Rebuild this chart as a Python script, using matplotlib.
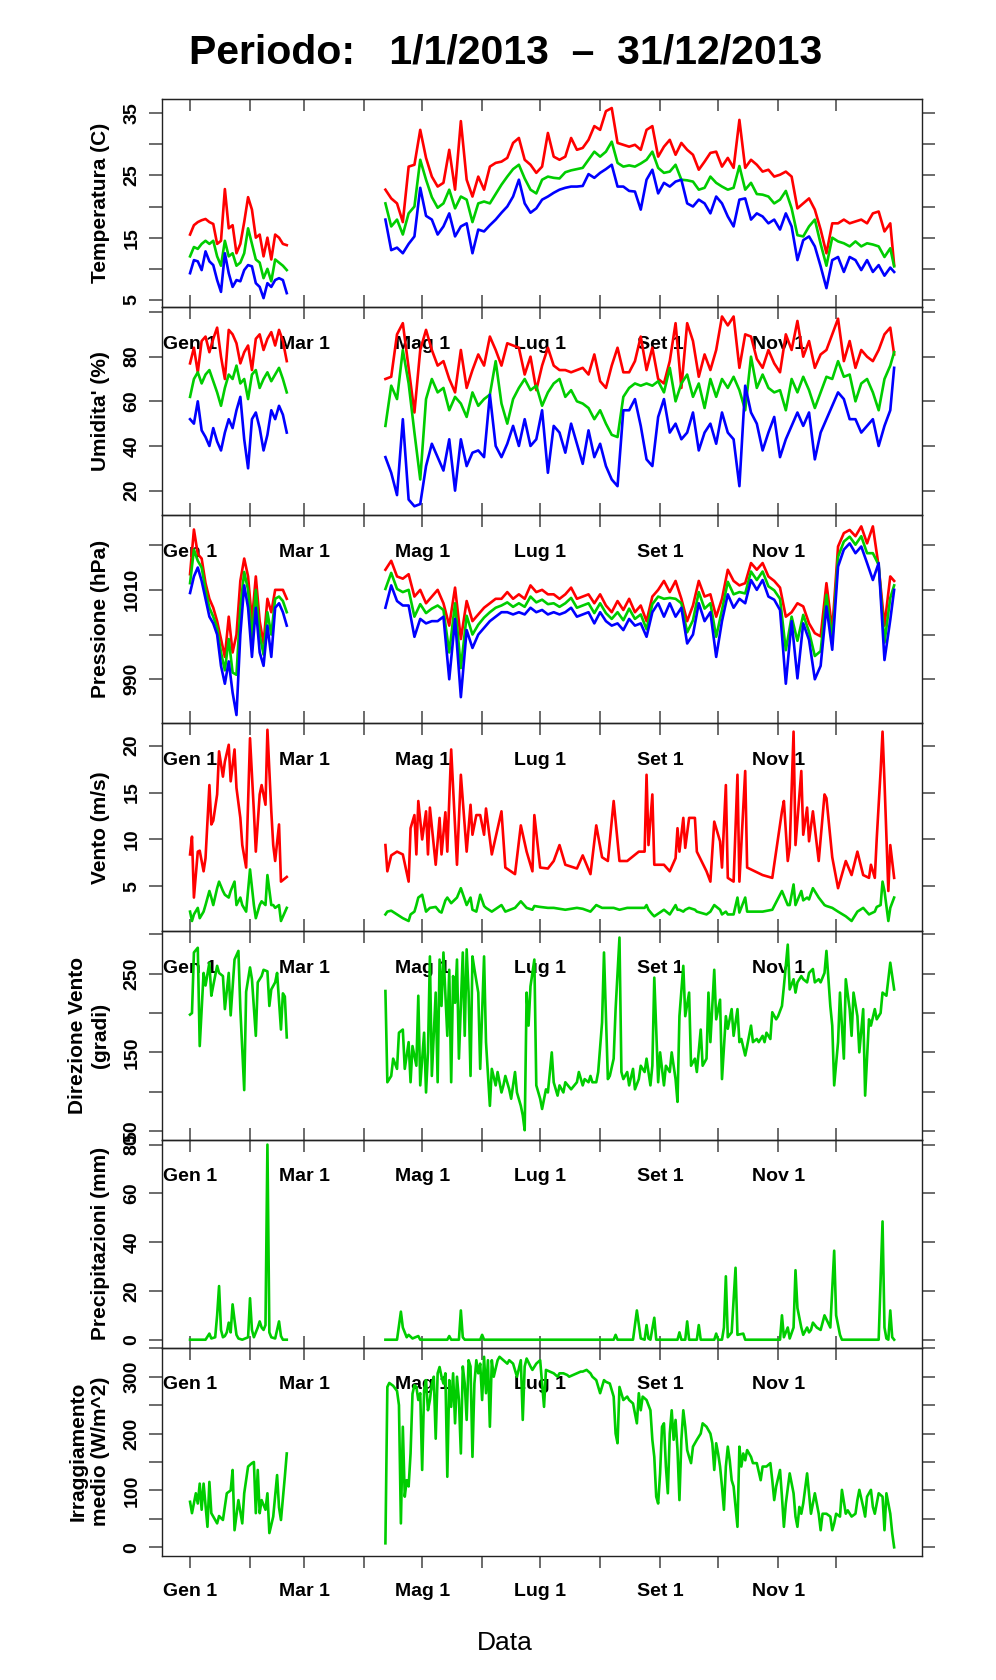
import numpy as np
import matplotlib
matplotlib.use("Agg")
import matplotlib.pyplot as plt

plt.rcParams['font.family'] = ['Liberation Sans', 'DejaVu Sans']

# giorno dell'anno, 0 = 1 gennaio 2013 (dati mancanti tra fine feb e meta' apr)
giorni = list(range(0, 51, 2)) + list(range(101, 363, 3)) + [364]

temp_max = [15.5, 17.0, 17.5, 17.8, 18.0, 17.5, 17.2, 14.0, 14.5, 22.8, 16.5, 17.0, 12.5,
            14.0, 17.5, 21.5, 19.5, 15.0, 15.5, 12.0, 15.0, 11.5, 15.5, 15.0, 14.0, 13.8,
            22.7, 21.3, 20.5, 17.5, 26.4, 26.7, 32.3, 27.8, 24.8, 23.2,
            23.8, 29.1, 22.7, 33.7, 24.3, 21.6, 24.8, 22.7, 26.4, 27.0,
            27.2, 27.8, 30.2, 31.0, 27.5, 26.7, 25.4, 26.4, 31.8, 28.0,
            27.5, 28.0, 31.0, 29.1, 29.4, 30.7, 32.9, 32.3, 35.3, 35.8,
            30.2, 29.9, 29.6, 29.9, 29.1, 32.3, 32.9, 28.0, 29.6, 30.7,
            28.3, 30.2, 29.1, 28.3, 25.9, 27.2, 28.6, 28.8, 26.4, 27.8,
            26.2, 33.9, 26.2, 27.5, 26.7, 25.6, 25.9, 24.8, 25.1, 25.6,
            24.8, 19.7, 20.5, 21.3, 19.5, 16.3, 12.5, 17.3, 17.3, 17.9,
            17.3, 17.6, 17.9, 17.3, 18.9, 19.2, 16.0, 17.3, 10.6]
temp_med = [12.0, 13.5, 13.2, 14.0, 14.5, 14.0, 14.5, 12.0, 10.5, 14.5, 12.0, 12.5, 10.5,
            11.0, 12.5, 16.5, 14.0, 11.5, 11.0, 8.5, 10.0, 8.0, 11.5, 11.0, 10.5, 9.8,
            20.5, 16.8, 17.9, 15.5, 18.9, 20.0, 27.5, 24.3, 21.5, 19.8,
            20.5, 22.7, 19.7, 21.6, 21.1, 17.5, 20.5, 20.8, 20.5, 22.0,
            23.5, 24.8, 26.0, 26.7, 24.5, 22.7, 22.1, 24.3, 24.8, 24.6,
            24.5, 25.5, 25.8, 26.0, 26.2, 27.5, 28.8, 28.0, 28.8, 30.4,
            27.0, 26.4, 26.6, 26.4, 26.9, 27.5, 28.8, 26.2, 25.4, 25.6,
            26.7, 24.3, 24.2, 24.0, 22.7, 23.0, 24.8, 23.8, 23.2, 22.7,
            23.0, 26.5, 22.7, 23.8, 22.0, 21.9, 21.6, 20.5, 21.1, 22.5,
            19.7, 15.4, 15.2, 16.8, 17.9, 14.0, 10.5, 15.0, 14.4, 14.1,
            13.6, 14.4, 13.6, 14.1, 13.9, 13.6, 11.9, 13.3, 10.4]
temp_min = [9.3, 11.4, 11.2, 9.8, 12.8, 11.2, 10.6, 8.2, 6.3, 12.5, 9.3, 7.1, 8.2,
            8.0, 9.8, 10.6, 10.4, 7.7, 7.1, 5.3, 7.7, 7.1, 8.2, 8.5, 8.2, 6.1,
            17.9, 13.0, 13.4, 12.5, 14.0, 15.2, 23.0, 18.5, 17.9, 15.5,
            16.8, 18.9, 15.2, 16.8, 17.3, 12.5, 16.3, 16.0, 17.0, 17.9,
            19.0, 20.0, 21.6, 24.3, 20.5, 19.0, 19.7, 21.1, 21.6, 22.2,
            22.7, 23.0, 23.2, 23.2, 23.3, 25.2, 24.6, 25.4, 26.0, 26.7,
            23.2, 23.2, 22.5, 22.4, 19.5, 24.3, 25.9, 22.1, 23.8, 23.2,
            24.0, 24.3, 20.5, 20.0, 21.1, 20.5, 18.9, 21.6, 20.5, 18.4,
            16.8, 21.1, 21.3, 17.9, 18.9, 18.4, 17.3, 17.9, 16.3, 18.9,
            16.8, 11.4, 14.6, 15.2, 13.6, 10.4, 6.9, 11.4, 11.9, 9.5,
            11.9, 11.4, 9.8, 11.4, 9.5, 10.6, 8.9, 10.2, 9.5]

umid_max = [77, 84, 73, 87, 89, 82, 88, 93, 80, 70, 92, 90, 86, 77, 82, 85, 74, 88, 90, 83,
            88, 91, 85, 92, 87, 78,
            70, 71, 90, 95, 75, 55, 83, 92, 83, 76, 78, 70, 64, 83, 66, 74, 81, 76, 89, 83,
            76, 86, 85, 84, 72, 80, 65, 76, 84, 76, 74, 74, 73, 74, 75, 72, 81, 69, 66, 76,
            84, 73, 73, 78, 89, 74, 84, 70, 68, 78, 95, 66, 95, 87, 71, 81, 74, 83, 98, 94,
            98, 75, 90, 89, 79, 75, 83, 77, 73, 90, 83, 96, 80, 87, 75, 81, 83, 90, 97, 78,
            87, 75, 83, 80, 78, 83, 90, 93, 81]
umid_med = [62, 70, 73, 68, 72, 74, 69, 64, 58, 66, 72, 70, 76, 68, 70, 61, 72, 74, 66, 70,
            73, 69, 72, 75, 70, 64,
            49, 67, 61, 83, 68, 46, 25, 61, 70, 64, 66, 56, 62, 59, 53, 64, 58, 61, 63, 78,
            59, 50, 61, 66, 70, 65, 67, 58, 64, 68, 70, 62, 65, 60, 59, 57, 52, 56, 50, 45,
            44, 62, 66, 68, 67, 68, 67, 69, 64, 75, 60, 68, 72, 62, 68, 57, 70, 62, 70, 66,
            71, 65, 56, 80, 66, 72, 66, 64, 65, 56, 70, 64, 71, 65, 57, 64, 71, 70, 78, 71,
            72, 60, 68, 70, 64, 56, 70, 76, 82]
umid_min = [52, 50, 60, 47, 44, 40, 48, 42, 38, 46, 52, 48, 56, 62, 43, 30, 52, 55, 48, 38,
            45, 56, 52, 58, 54, 46,
            35, 28, 18, 52, 16, 13, 14, 31, 41, 35, 29, 43, 20, 43, 31, 37, 38, 35, 63, 40,
            35, 41, 49, 40, 52, 40, 43, 56, 28, 49, 46, 37, 50, 41, 32, 47, 35, 41, 31, 25,
            22, 56, 56, 61, 49, 34, 31, 53, 61, 46, 50, 43, 46, 55, 38, 46, 50, 41, 55, 46,
            43, 22, 67, 55, 50, 38, 46, 53, 35, 43, 49, 55, 49, 55, 34, 46, 52, 58, 64, 61,
            52, 52, 46, 49, 52, 40, 49, 56, 75]

press_max = [1013.5, 1023.5, 1018, 1017, 1011.5, 1008, 1006, 1003, 999, 995, 1004, 996, 1000,
             1012, 1017, 1013, 1003, 1013, 1003, 998, 1008, 1005, 1010, 1010, 1010, 1008,
             1014.5, 1016.5, 1013, 1012.5, 1013.5, 1008.5, 1010, 1007, 1008.5, 1010,
             1007, 1002, 1010.5, 999, 1007.5, 1003, 1004.5, 1006, 1007, 1008,
             1008, 1009.5, 1008, 1009, 1008, 1011, 1009.5, 1010, 1009, 1009,
             1008, 1009, 1010.5, 1008, 1008.5, 1009, 1007, 1009, 1006.5, 1005,
             1007.5, 1005.5, 1008, 1005, 1006.5, 1003, 1008.5, 1010, 1012, 1009.5,
             1012, 1008, 1003, 1006.5, 1012, 1008.5, 1009, 1004, 1008, 1014.5,
             1012, 1011, 1011.5, 1016, 1014.5, 1016, 1013, 1012, 1010.5, 1004,
             1005, 1007, 1006.3, 1002.5, 1000.3, 999.6, 1011.5, 1001, 1019.7, 1022.7,
             1023.4, 1022, 1024.2, 1020.4, 1024.2, 1015.2, 1002, 1013, 1012]
press_med = [1011.5, 1019, 1016.5, 1015, 1010, 1006, 1004, 1001.5, 996, 992, 999, 991.5, 991,
             1006, 1014, 1010, 999, 1010, 1000, 995.5, 1005, 1000, 1008, 1008.5, 1007.5, 1005,
             1010.2, 1013.8, 1010.2, 1009.5, 1010, 1004, 1006.8, 1004.8, 1005.8, 1006.5,
             1005.5, 996, 1007, 992.5, 1004.2, 1000, 1002.2, 1003.8, 1005, 1006,
             1006.5, 1007.2, 1006.2, 1007, 1006.2, 1008.5, 1007.2, 1007.8, 1006.8, 1007,
             1006.2, 1007, 1008.2, 1006, 1006.5, 1007, 1004.8, 1007, 1004.8, 1003.5,
             1005, 1003.2, 1005.8, 1003.5, 1004.5, 1001.2, 1006.8, 1008.5, 1008, 1008.2,
             1008, 1007, 1000.5, 1003.2, 1009.5, 1005.8, 1007, 999.5, 1005.5, 1011.8,
             1009, 1009.5, 1009.2, 1014.1, 1012.2, 1014.1, 1010.8, 1009.9, 1008, 996.5,
             1004, 998.6, 1004.4, 1000.6, 995.2, 996.3, 1008.9, 998.8, 1017.4, 1020.8,
             1021.9, 1020.1, 1022, 1018.2, 1018.2, 1015.6, 998.2, 1008.2, 1011]
press_min = [1009.3, 1013, 1015, 1012, 1008, 1004, 1002.5, 1000, 993, 989, 994, 987, 982,
             1000, 1011, 1006, 995, 1006, 996, 993, 1002, 995, 1006, 1007, 1005, 1002,
             1006, 1011, 1007.5, 1006.5, 1006.5, 999.5, 1003.5, 1002.5, 1003, 1003,
             1004, 990, 1003.5, 986, 1001, 997, 1000, 1001.5, 1003, 1004,
             1005, 1005, 1004.5, 1005, 1004.5, 1006, 1005, 1005.5, 1004.5, 1005,
             1004.5, 1005, 1006, 1004, 1004.5, 1005, 1002.5, 1005, 1003, 1002,
             1002.5, 1001, 1003.5, 1002, 1002.5, 999.5, 1005, 1007, 1004, 1007,
             1004, 1006, 998, 1000, 1007, 1003, 1005, 995, 1003, 1009,
             1006, 1008, 1007, 1012.2, 1010, 1012.2, 1008.5, 1007.8, 1005.5, 989,
             1003, 990.2, 1002.5, 998.8, 990, 993, 1006.3, 996.6, 1015.2, 1019,
             1020.4, 1018.2, 1019.7, 1016, 1012.2, 1016, 994.3, 1003.3, 1010]

giorni_vento = [0, 1, 2, 4, 5, 7, 8, 10, 11, 12, 14, 15, 17, 18, 20, 21, 23, 24, 26, 27,
                29, 31, 33, 34, 36, 37, 39, 40, 42, 43, 44, 46, 47, 50,
                101, 102, 104, 107, 110, 113, 114, 116, 117, 118, 120, 122, 123, 124, 127, 129,
                130, 132, 133, 135, 138, 140, 143, 145, 146, 148, 150, 152, 153, 156, 161, 163,
                168, 171, 174, 177, 178, 181, 185, 188, 191, 194, 200, 203, 207, 210, 213, 216,
                219, 222, 226, 232, 235, 236, 237, 239, 240, 245, 248, 251, 252, 253, 255, 256,
                258, 261, 262, 267, 269, 271, 274, 275, 277, 278, 281, 283, 284, 287, 288, 296,
                301, 306, 307, 309, 310, 312, 313, 316, 317, 319, 320, 322, 325, 328, 329, 332,
                335, 339, 342, 345, 348, 351, 352, 354, 355, 357, 358, 359, 361, 362, 364]
vento_max = [8.4, 10.3, 3.8, 8.7, 8.8, 6.6, 8.0, 15.8, 11.6, 12.0, 14.8, 19.4, 16.7, 18.3,
             20.1, 16.2, 19.6, 15.5, 12.3, 9.4, 7.0, 20.8, 13.0, 8.7, 14.8, 15.8, 13.7, 21.7,
             13.0, 9.4, 7.7, 11.6, 5.5, 6.0,
             9.4, 6.6, 8.3, 8.7, 8.4, 5.5, 11.2, 12.6, 8.4, 14.1, 10.0, 13.0, 8.4, 13.4, 7.3,
             12.3, 8.4, 12.9, 8.7, 19.6, 7.3, 16.9, 8.7, 13.7, 10.5, 12.6, 12.6, 10.5, 13.3,
             8.4, 13.0, 7.0, 6.3, 11.5, 8.7, 6.6, 12.6, 7.0, 6.9, 7.7, 9.4, 7.3, 6.9, 8.3,
             6.3, 11.5, 8.1, 7.7, 14.1, 7.7, 7.7, 8.7, 8.7, 16.9, 9.4, 14.8, 7.3, 7.3, 6.6,
             8.0, 11.2, 8.7, 12.3, 9.1, 12.3, 12.3, 8.7, 6.6, 5.5, 11.9, 9.8, 7.0, 15.8, 5.9,
             5.5, 16.9, 5.5, 17.3, 7.0, 6.2, 5.9, 13.0, 14.1, 7.7, 9.1, 21.5, 9.4, 17.3, 10.5,
             13.4, 9.8, 13.0, 7.7, 14.8, 14.4, 8.1, 4.8, 7.7, 6.2, 8.7, 6.2, 5.9, 7.3, 5.9,
             10.1, 17.3, 21.5, 16.2, 4.5, 9.4, 5.9]
vento_med = [2.3, 1.3, 2.0, 2.7, 1.6, 2.3, 3.0, 4.5, 3.8, 3.0, 4.8, 5.5, 4.5, 4.1, 3.8, 4.5,
             5.5, 3.0, 3.8, 3.0, 2.3, 6.8, 3.0, 1.6, 3.0, 3.4, 3.0, 6.2, 3.0, 3.0, 2.7, 3.0,
             1.3, 2.7,
             2.0, 2.3, 2.4, 2.0, 1.6, 1.3, 2.0, 2.3, 3.0, 3.8, 4.1, 2.3, 2.5, 2.7, 2.8, 2.3,
             2.2, 3.5, 3.8, 3.2, 3.8, 4.8, 3.0, 3.8, 2.5, 2.3, 4.1, 2.9, 2.7, 2.3, 3.0, 2.3,
             2.7, 3.4, 2.7, 2.5, 2.9, 2.8, 2.7, 2.7, 2.6, 2.5, 2.7, 2.6, 2.3, 3.0, 2.7, 2.7,
             2.7, 2.5, 2.7, 2.7, 2.7, 3.0, 2.5, 2.0, 1.8, 2.5, 2.0, 3.0, 2.5, 2.5, 2.3, 2.5,
             2.7, 2.5, 2.3, 2.0, 2.3, 3.0, 2.5, 2.0, 2.3, 2.0, 2.0, 3.8, 2.2, 3.8, 2.3, 2.3,
             2.5, 4.5, 4.0, 3.0, 3.0, 5.2, 3.0, 4.5, 3.5, 3.8, 3.6, 4.8, 3.8, 3.0, 2.9, 2.7,
             2.3, 1.8, 1.3, 2.3, 2.7, 2.0, 2.1, 2.3, 2.8, 3.0, 5.5, 4.5, 1.3, 2.7, 3.8]

giorni_dir = [0, 1, 2, 4, 5, 7, 8, 10, 11, 12, 14, 15, 17, 18, 20, 21, 23, 25, 26, 28,
              29, 31, 32, 34, 35, 37, 38, 40, 41, 42, 44, 45, 47, 48, 49, 50,
              101, 102, 104, 105, 107, 108, 110, 111, 113, 114, 115, 117, 118, 119, 121, 122,
              123, 124, 125, 127, 128, 129, 130, 131, 133, 134, 135, 136, 137, 138, 139, 141,
              142, 143, 144, 145, 146, 147, 149, 150, 152, 153, 155, 156, 158, 159, 161, 162,
              163, 165, 166, 168, 169, 171, 172, 173, 174, 175, 176, 178, 179, 181, 182, 184,
              185, 187, 188, 190, 191, 193, 194, 197, 200, 201, 203, 204, 206, 207, 208, 210,
              211, 213, 214, 216, 217, 219, 220, 222, 223, 224, 226, 227, 229, 230, 232, 233,
              235, 236, 238, 239, 240, 242, 243, 245, 246, 248, 249, 251, 252, 253, 255, 256,
              258, 259, 261, 262, 264, 265, 267, 268, 269, 271, 272, 274, 275, 277, 278, 280,
              281, 283, 284, 285, 287, 288, 290, 291, 293, 294, 296, 297, 298, 300, 301, 303,
              304, 306, 307, 309, 310, 312, 313, 314, 316, 317, 319, 320, 322, 323, 325, 326,
              328, 329, 331, 332, 333, 335, 336, 338, 339, 341, 342, 343, 345, 346, 348, 349,
              351, 352, 354, 355, 357, 358, 360, 361, 362, 364]
direzione = [198, 200, 277, 283, 158, 251, 235, 264, 222, 235, 260, 251, 247, 205, 251, 197,
             268, 279, 205, 102, 227, 258, 243, 171, 239, 247, 255, 253, 209, 230, 239, 251,
             179, 225, 221, 169,
             228, 112, 120, 142, 129, 175, 179, 129, 163, 112, 158, 133, 222, 108, 175, 99,
             150, 272, 120, 226, 112, 268, 209, 277, 171, 255, 112, 247, 213, 268, 142, 277,
             171, 281, 226, 120, 272, 256, 226, 129, 272, 163, 82, 129, 108, 125, 99, 108,
             120, 103, 91, 125, 99, 82, 70, 51, 226, 184, 234, 268, 108, 91, 78, 103,
             99, 150, 112, 95, 108, 99, 112, 103, 112, 125, 108, 116, 112, 120, 112, 112,
             125, 188, 277, 116, 120, 142, 205, 296, 125, 116, 125, 108, 129, 103, 116, 133,
             125, 142, 108, 133, 245, 112, 150, 108, 133, 125, 150, 116, 87, 196, 260, 196,
             226, 133, 142, 125, 179, 133, 142, 226, 163, 255, 192, 217, 116, 196, 180, 205,
             171, 205, 163, 167, 146, 158, 184, 163, 167, 163, 171, 163, 175, 167, 201, 192,
             196, 209, 234, 287, 230, 243, 226, 239, 247, 243, 239, 251, 256, 239, 243, 239,
             251, 279, 209, 184, 108, 163, 226, 142, 243, 205, 171, 226, 196, 150, 205, 95,
             192, 184, 205, 192, 200, 226, 222, 243, 264, 230]

giorni_pioggia = [0, 8, 10, 11, 13, 14, 15, 16, 17, 18, 19, 20, 21, 22, 23, 24, 25, 27, 30, 31,
                  32, 33, 34, 35, 36, 37, 38, 39, 40, 41, 42, 44, 46, 47, 48, 50,
                  101, 107, 109, 110, 111, 112, 113, 115, 118, 119, 133, 134, 135, 139, 140, 141,
                  142, 150, 151, 152, 219, 220, 221, 229, 231, 233, 235, 236, 237, 238, 240, 241,
                  252, 253, 254, 256, 257, 258, 262, 263, 264, 271, 272, 273, 275, 276, 277, 278,
                  280, 282, 283, 286, 287, 305, 306, 307, 309, 310, 312, 313, 314, 316, 317, 319,
                  320, 321, 322, 323, 324, 326, 328, 331, 333, 334, 336, 337, 356, 358, 359, 360,
                  361, 362, 363, 364]
pioggia = [0, 0, 2.5, 0.5, 1, 10, 22, 4, 1, 1.5, 3, 7, 3, 14.5, 8, 2, 0.5, 0, 1, 17,
           4, 1, 3, 5, 7.5, 5, 4, 6, 80, 3, 1, 0.5, 7.5, 1.5, 0, 0,
           0, 0, 11.5, 5, 3, 1, 2, 0.5, 1.5, 0, 0, 1.5, 0, 0, 12, 1,
           0, 0, 2, 0, 0, 2, 0, 0, 12, 0.5, 0, 6, 0.5, 0, 9, 0,
           0, 3, 0, 0, 7.5, 0, 0, 6, 0, 0, 2.5, 0, 0, 5, 26, 1,
           3, 29.5, 2, 2.5, 0, 0, 10, 1, 5, 0.5, 5, 28.5, 13, 5, 2, 5,
           3, 4, 7, 6, 5, 4, 10, 5, 36.5, 10, 2, 0, 0, 48.5, 5, 0.5,
           0, 12, 1, 0]

giorni_irr = [0, 1, 3, 4, 5, 6, 7, 9, 10, 11, 13, 14, 15, 17, 19, 21, 22, 23, 25, 27,
              28, 30, 32, 33, 34, 35, 36, 37, 39, 40, 41, 43, 45, 46, 47, 49, 50,
              101, 102, 103, 105, 107, 108, 109, 110, 111, 112, 113, 114, 115, 116, 117, 118,
              119, 120, 121, 122, 123, 124, 125, 126, 127, 128, 129, 130, 131, 132, 133, 134,
              135, 136, 137, 138, 139, 140, 141, 142, 143, 144, 145, 146, 147, 148, 149, 150,
              151, 152, 153, 154, 155, 156, 157, 159, 160, 162, 164, 165, 167, 169, 171, 172,
              173, 174, 176, 177, 179, 181, 183, 184, 186, 188, 190, 191, 193, 195, 196, 198,
              200, 202, 203, 205, 207, 208, 210, 212, 214, 215, 217, 219, 220, 221, 222, 224,
              226, 227, 229, 231, 232, 233, 234, 236, 238, 239, 240, 241, 242, 243, 244, 245,
              246, 247, 248, 249, 250, 251, 252, 253, 254, 255, 256, 257, 258, 259, 260, 262,
              264, 265, 267, 269, 270, 271, 272, 273, 274, 275, 276, 277, 278, 279, 280, 281,
              282, 283, 284, 285, 286, 287, 288, 290, 291, 293, 295, 296, 298, 300, 301, 302,
              303, 305, 306, 307, 308, 310, 312, 313, 314, 315, 316, 317, 319, 320, 321, 323,
              325, 326, 327, 329, 331, 332, 333, 334, 336, 337, 339, 340, 342, 344, 345, 346,
              348, 349, 350, 352, 353, 354, 356, 358, 359, 360, 362, 363, 364]
irraggiamento = [80, 60, 95, 77, 112, 66, 112, 36, 115, 60, 48, 42, 55, 48, 95, 100, 136, 30,
                 83, 42, 95, 142, 148, 150, 60, 136, 60, 83, 66, 95, 25, 54, 127, 70, 48, 124,
                 165,
                 7, 282, 289, 284, 275, 250, 42, 212, 89, 118, 107, 165, 270, 285, 282, 259,
                 271, 136, 276, 294, 241, 259, 288, 300, 191, 306, 317, 300, 288, 306, 124, 294,
                 247, 306, 218, 300, 259, 165, 318, 288, 224, 329, 318, 159, 288, 329, 306, 323,
                 259, 335, 271, 329, 212, 329, 300, 329, 335, 329, 323, 329, 323, 300, 329, 224,
                 318, 332, 318, 312, 323, 329, 247, 312, 309, 306, 300, 306, 306, 303, 300, 303,
                 306, 309, 309, 312, 306, 300, 294, 271, 294, 291, 288, 265, 200, 183, 282, 259,
                 265, 259, 253, 218, 271, 241, 265, 259, 241, 189, 159, 89, 77, 130, 212, 218,
                 142, 95, 200, 241, 189, 224, 171, 83, 189, 241, 212, 171, 159, 148, 177, 189,
                 200, 218, 212, 200, 183, 136, 183, 165, 142, 107, 66, 142, 177, 153, 118, 107,
                 71, 36, 177, 142, 165, 153, 171, 159, 148, 148, 118, 142, 142, 148, 118, 83,
                 107, 136, 89, 36, 77, 130, 95, 54, 36, 71, 59, 77, 130, 95, 59, 95,
                 59, 30, 59, 59, 54, 30, 42, 59, 54, 101, 59, 65, 54, 59, 83, 101,
                 71, 54, 89, 101, 71, 59, 95, 89, 30, 95, 59, 25, 0]

mesi = [0, 31, 59, 90, 120, 151, 181, 212, 243, 273, 304, 334]
nomi_mesi = ['Gen 1', '', 'Mar 1', '', 'Mag 1', '', 'Lug 1', '', 'Set 1', '', 'Nov 1', '']

ROSSO, VERDE, BLU = '#FF0000', '#00CD00', '#0000FF'


def spezza(x, y):
    # interrompe la linea nel periodo senza dati (fine feb - meta' apr)
    x = np.asarray(x, float)
    y = np.asarray(y, float)
    cut = np.where((x[:-1] <= 50) & (x[1:] >= 101))[0] + 1
    return np.insert(x, cut, np.nan), np.insert(y, cut, np.nan)


pannelli = [
    ('Temperatura (C)', (3.86, 37.25), [5, 10, 15, 20, 25, 30, 35],
     ['5', '', '15', '', '25', '', '35'],
     [(giorni, temp_max, ROSSO), (giorni, temp_med, VERDE), (giorni, temp_min, BLU)]),
    ("Umidita' (%)", (9.0, 102.2), [20, 40, 60, 80, 100], ['20', '40', '60', '80', ''],
     [(giorni, umid_max, ROSSO), (giorni, umid_med, VERDE), (giorni, umid_min, BLU)]),
    ('Pressione (hPa)', (980.15, 1026.7), [990, 1000, 1010, 1020], ['990', '', '1010', ''],
     [(giorni, press_max, ROSSO), (giorni, press_med, VERDE), (giorni, press_min, BLU)]),
    ('Vento (m/s)', (0.19, 22.39), [5, 10, 15, 20], ['5', '10', '15', '20'],
     [(giorni_vento, vento_max, ROSSO), (giorni_vento, vento_med, VERDE)]),
    ('Direzione Vento\n(gradi)', (39.2, 303.8), [50, 100, 150, 200, 250, 300],
     ['50', '', '150', '', '250', ''],
     [(giorni_dir, direzione, VERDE)]),
    ('Precipitazioni (mm)', (-3.24, 82.1), [0, 20, 40, 60, 80], ['0', '20', '40', '60', '80'],
     [(giorni_pioggia, pioggia, VERDE)]),
    ('Irraggiamento\nmedio (W/m^2)', (-14.8, 351.2), [0, 50, 100, 150, 200, 250, 300, 350],
     ['0', '', '100', '', '200', '', '300', ''],
     [(giorni_irr, irraggiamento, VERDE)]),
]

W, H = 996, 1680
x_sx, x_dx = 162, 922
y_top, h_pan = 99, 208.1

fig = plt.figure(figsize=(W / 100, H / 100), dpi=100)
fig.patch.set_facecolor('white')

for k, (ylab, ylim, yt, ytl, serie) in enumerate(pannelli):
    top = y_top + k * h_pan
    ax = fig.add_axes([x_sx / W, 1 - (top + h_pan) / H, (x_dx - x_sx) / W, h_pan / H])
    ax.set_facecolor('none')
    for gg, val, col in serie:
        xx, yy = spezza(gg, val)
        ax.plot(xx, yy, color=col, lw=1.9, solid_joinstyle='round')
    ax.set_xlim(-14.5, 378.4)
    ax.set_ylim(*ylim)
    for s in ax.spines.values():
        s.set_linewidth(1.0)
        s.set_color('#222222')

    ax.set_yticks(yt)
    ax.set_yticklabels(ytl, fontsize=14, fontweight='bold')
    ax.tick_params(axis='y', left=True, right=True, direction='out', length=9.4,
                   width=1.1, color='#444444', pad=6, labelrotation=90)
    for t in ax.get_yticklabels():
        t.set_va('center')

    ax.set_xticks(mesi)
    ax.set_xticklabels(nomi_mesi, fontsize=14, fontweight='bold')
    if k < len(pannelli) - 1:
        ax.tick_params(axis='x', direction='inout', length=17.3, width=1.1,
                       color='#444444', pad=12)
    else:
        ax.tick_params(axis='x', direction='out', length=8.6, width=1.1,
                       color='#444444', pad=11)
    if k == 0:
        sec = ax.secondary_xaxis('top')
        sec.set_xticks(mesi)
        sec.set_xticklabels([''] * len(mesi))
        sec.tick_params(direction='in', length=8.6, width=1.1, color='#444444')

    xl = -0.096 if '\n' in ylab else -0.0803
    ax.text(xl, 0.5, ylab, transform=ax.transAxes, rotation=90, ha='center', va='center',
            fontsize=15, fontweight='bold', linespacing=1.25, multialignment='center')

fig.text(505.5 / W, 1 - 63 / H, 'Periodo:   1/1/2013  \u2013  31/12/2013', ha='center',
         va='baseline', fontsize=29.5, fontweight='bold')
fig.text(505 / W, 1 - 1650 / H, 'Data', ha='center', va='baseline', fontsize=19)

fig.savefig('out.png', dpi=100)
